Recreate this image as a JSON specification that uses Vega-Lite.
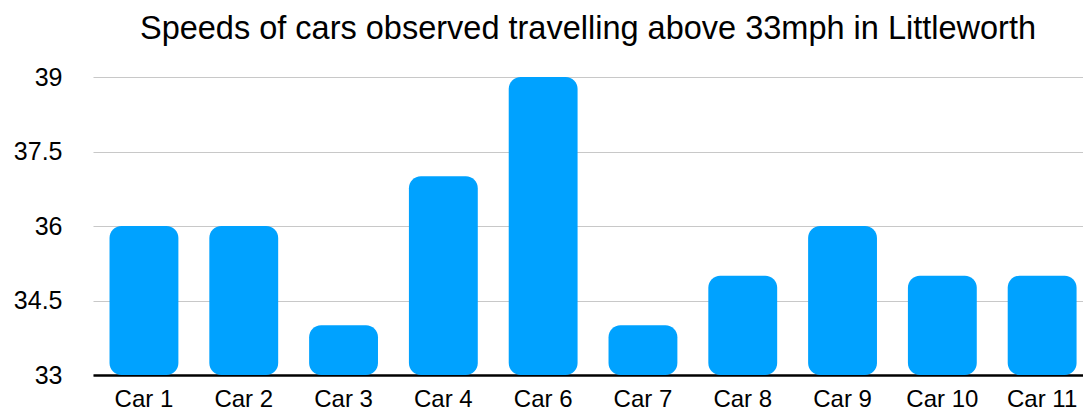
{
  "$schema": "https://vega.github.io/schema/vega-lite/v6.json",
  "autosize": "none",
  "padding": {"left": 93, "top": 77, "right": 0, "bottom": 39},
  "width": 990,
  "height": 298,
  "background": "white",
  "title": {
    "text": "Speeds of cars observed travelling above 33mph in Littleworth",
    "font": "Liberation Sans",
    "fontSize": 32.5,
    "fontWeight": "normal",
    "color": "#000000",
    "anchor": "middle",
    "dx": 0,
    "offset": 20
  },
  "data": {
    "values": [
      {"car": "Car 1", "speed": 36},
      {"car": "Car 2", "speed": 36},
      {"car": "Car 3", "speed": 34},
      {"car": "Car 4", "speed": 37},
      {"car": "Car 6", "speed": 39},
      {"car": "Car 7", "speed": 34},
      {"car": "Car 8", "speed": 35},
      {"car": "Car 9", "speed": 36},
      {"car": "Car 10", "speed": 35},
      {"car": "Car 11", "speed": 35}
    ]
  },
  "mark": {"type": "bar", "color": "#00A2FF", "cornerRadius": 12},
  "encoding": {
    "x": {
      "field": "car",
      "type": "nominal",
      "sort": null,
      "scale": {"paddingInner": 0.31, "paddingOuter": 0.115, "align": 0.72},
      "axis": {
        "title": null,
        "labelAngle": 0,
        "labelFont": "Liberation Sans",
        "labelFontSize": 24,
        "labelColor": "#000000",
        "labelPadding": 12,
        "ticks": false,
        "domainColor": "#000000",
        "domainWidth": 2.5,
        "grid": false
      }
    },
    "y": {
      "field": "speed",
      "type": "quantitative",
      "scale": {"domain": [33, 39], "zero": false, "nice": false},
      "axis": {
        "title": null,
        "values": [33, 34.5, 36, 37.5, 39],
        "format": ".1~f",
        "labelFont": "Liberation Sans",
        "labelFontSize": 25,
        "labelColor": "#000000",
        "labelPadding": 31,
        "ticks": false,
        "domain": false,
        "gridColor": "#c8c8c8",
        "gridWidth": 1.2
      }
    },
    "y2": {"datum": 33}
  },
  "config": {"view": {"stroke": null}}
}
